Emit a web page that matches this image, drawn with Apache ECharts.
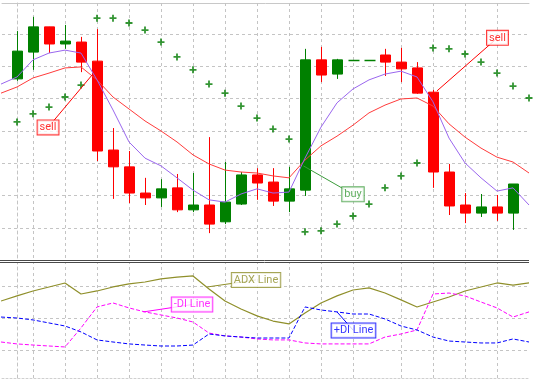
<!DOCTYPE html>
<html><head><meta charset="utf-8">
<script src="https://cdn.jsdelivr.net/npm/echarts@6/dist/echarts.min.js"></script>
<style>html,body{margin:0;padding:0;background:#fff}#c{width:542px;height:383px}</style>
</head><body><div id="c"></div>
<script>
// bar numbers (bar -1 and 32 are partly outside the window)
const barNo = [-1,0,1,2,3,4,5,6,7,8,9,10,11,12,13,14,15,16,17,18,19,20,21,22,23,24,25,26,27,28,29,30,31,32];
// candles (price units, grid step = 10)
const openP  = [null,56.1,64.4,72.2,66.9,67.5,61.6,34.1,28.9,20.8,19.3,22.4,15.6,17.1,11.9,17.4,26.4,24.2,18.3,21.7,62.0,57.6,62.0,62.0,63.5,61.3,59.5,52.0,27.3,17.1,14.6,16.5,14.6,null];
const closeP = [null,64.7,72.2,66.9,67.8,61.3,33.8,28.9,20.8,19.3,22.1,15.6,17.1,11.2,18.0,26.4,23.9,18.3,22.1,62.0,57.3,62.0,62.0,62.0,61.3,59.2,51.7,27.3,16.8,14.6,16.5,14.6,23.6,null];
const highP  = [null,70.9,75.3,72.2,72.8,69.1,71.5,40.9,33.8,25.5,25.1,26.7,27.0,38.1,30.4,27.3,28.5,28.5,28.9,65.4,66.0,62.3,62.0,62.0,65.4,65.7,61.3,52.7,29.8,20.8,20.5,20.2,23.6,null];
const lowP   = [null,55.5,58.9,64.1,65.4,58.2,30.7,19.0,17.7,17.1,16.5,14.9,14.9,8.4,11.2,17.1,18.7,16.8,14.9,19.9,55.1,56.1,62.0,62.0,57.0,55.1,51.5,22.4,14.0,11.5,13.4,12.2,9.4,null];
// moving averages
const maFast = [54.5,56.7,62.0,64.1,65.0,64.1,55.8,46.5,36.6,31.6,29.2,25.5,21.7,18.7,18.0,20.5,22.1,20.8,21.1,31.6,41.2,48.7,53.0,55.8,57.6,58.5,56.7,49.0,37.8,30.1,25.5,21.4,22.4,17.1];
const maSlow = [51.7,53.6,56.4,57.9,59.5,59.8,55.8,50.5,46.8,43.1,40.0,36.6,32.6,29.8,27.9,27.3,27.0,26.1,25.5,31.0,35.4,38.4,41.8,45.6,48.0,49.9,50.2,47.7,42.2,38.1,34.7,31.9,30.4,27.0];
// parabolic SAR
const sar = [41.5,42.8,45.3,47.4,50.5,54.2,74.9,74.9,73.4,71.2,67.5,62.9,58.9,54.5,51.7,47.7,44.0,40.6,37.5,8.8,9.1,11.2,13.7,17.4,22.4,26.1,30.1,65.7,65.4,63.8,61.3,57.9,53.9,50.2];
// ADX panel
const adx    = [50.6,53.8,56.9,59.4,61.9,55.0,56.9,59.4,61.3,62.5,64.4,65.6,66.3,58.1,50.6,45.6,41.3,38.1,36.3,43.1,49.4,53.8,57.5,58.8,55.6,51.3,46.9,50.0,53.1,56.9,59.4,61.9,60.6,61.9];
const minusDI= [25.0,23.8,23.1,22.5,21.9,33.8,46.9,49.4,46.3,43.8,41.9,40.0,37.5,30.6,28.8,28.1,26.9,26.3,26.3,24.4,23.8,23.8,23.8,23.8,28.1,30.0,32.5,55.0,55.6,53.8,50.0,46.3,40.6,43.8];
const plusDI = [40.6,40.0,38.8,36.9,35.0,31.3,26.3,25.0,23.8,23.1,22.5,22.5,23.1,30.0,28.8,28.1,27.5,27.5,27.5,46.9,45.0,43.8,42.5,42.5,39.4,35.0,32.5,28.1,25.6,25.0,24.4,24.4,26.9,25.0];
// grid lines
const hGridTop = [10,20,30,40,50,60,70];
const hGridBottom = [20,40,60];
const vGrid = [1,3,5,7,9,11,13,15,17,19,21,24,26,28,30];
// signal notes (top panel)
const noteText = ['sell','buy','sell'];
const noteColor = ['#ff0000','#3c9c3c','#ff0000'];
const noteFrom = [[4.69,57.3],[17.9,29.2],[26.25,52.4]];
const noteAt = [[1.94,41.1],[21.0,20.4],[30.03,68.8]];
// indicator line labels (bottom panel)
const lineText = ['ADX Line','-DI Line','+DI Line'];
const lineColor = ['#8f8f2a','#ff00ff','#0000ff'];
const lineFrom = [[11.9,59.4],[7.9,43.8],[20.0,43.8]];
const lineAt = [[14.94,63.8],[10.94,48.4],[21.03,32.2]];

const pairs = arr => barNo.map((b, i) => [b, arr[i]]);
const candleData = [];
barNo.forEach((b, i) => { if (openP[i] != null) candleData.push([b, openP[i], closeP[i], lowP[i], highP[i]]); });

function renderCandle(params, api) {
  const x = api.value(0), o = api.value(1), c = api.value(2), l = api.value(3), h = api.value(4);
  const pO = api.coord([x, o]), pC = api.coord([x, c]), pL = api.coord([x, l]), pH = api.coord([x, h]);
  const w = Math.round(api.size([1, 0])[0] * 0.65);
  const col = c >= o ? '#008000' : '#ff0000';
  const xc = Math.round(pO[0]) + 0.5;
  const top = Math.min(pO[1], pC[1]), bot = Math.max(pO[1], pC[1]);
  const left = Math.round(pO[0]) - w / 2 + 0.5;
  const children = [{
    type: 'line', shape: {x1: xc, y1: pH[1], x2: xc, y2: pL[1]},
    style: {stroke: col, lineWidth: 1}
  }];
  if (bot - top < 1) {
    children.push({type: 'line', shape: {x1: left, y1: Math.round(top) + 0.5, x2: left + w + 1, y2: Math.round(top) + 0.5}, style: {stroke: col, lineWidth: 1.5}});
  } else {
    children.push({type: 'rect', shape: {x: left, y: top, width: w, height: bot - top}, style: {fill: col, stroke: col, lineWidth: 1}});
  }
  return {type: 'group', children};
}

const gridStyle = {color: '#c4c4c4', type: [3, 3], width: 1};
const xCommon = {type: 'value', min: -0.9375, max: 32, axisTick: {show: false}, axisLabel: {show: false}, splitLine: {show: false}};
const yCommon = {type: 'value', axisTick: {show: false}, axisLabel: {show: false}, splitLine: {show: false}};

const series = [
  {
    type: 'custom', name: 'candles', xAxisIndex: 0, yAxisIndex: 0, z: 3,
    data: candleData, renderItem: renderCandle, encode: {x: 0, y: [1, 2, 3, 4]}, clip: true, animation: false,
    markLine: {z: 1, silent: true, symbol: ['none', 'none'], label: {show: false}, lineStyle: gridStyle, animation: false,
      data: hGridTop.map(v => ({yAxis: v})).concat(vGrid.map(v => ({xAxis: v})))}
  },
  {type: 'line', name: 'MA slow', data: pairs(maSlow), xAxisIndex: 0, yAxisIndex: 0, z: 4, showSymbol: false, symbol: 'none', lineStyle: {color: '#ff3b3b', width: 1}, clip: true, animation: false},
  {type: 'line', name: 'MA fast', data: pairs(maFast), xAxisIndex: 0, yAxisIndex: 0, z: 4, showSymbol: false, symbol: 'none', lineStyle: {color: '#9a66ee', width: 1}, clip: true, animation: false},
  {type: 'scatter', name: 'SAR', data: pairs(sar), xAxisIndex: 0, yAxisIndex: 0, z: 5,
    symbol: 'path://M2.6,0L4.4,0L4.4,2.6L7,2.6L7,4.4L4.4,4.4L4.4,7L2.6,7L2.6,4.4L0,4.4L0,2.6L2.6,2.6Z', symbolSize: 7,
    itemStyle: {color: '#007a00'}, clip: true, animation: false},
  {
    type: 'line', name: 'ADX', data: pairs(adx), xAxisIndex: 1, yAxisIndex: 1, z: 4, showSymbol: false, symbol: 'none',
    lineStyle: {color: '#8f8f2a', width: 1.2}, clip: true, animation: false,
    markLine: {z: 1, silent: true, symbol: ['none', 'none'], label: {show: false}, lineStyle: gridStyle, animation: false,
      data: hGridBottom.map(v => ({yAxis: v})).concat(vGrid.map(v => ({xAxis: v})))}
  },
  {type: 'line', name: '-DI', data: pairs(minusDI), xAxisIndex: 1, yAxisIndex: 1, z: 4, showSymbol: false, symbol: 'none', lineStyle: {color: '#ff00ff', width: 1, type: [4, 2]}, clip: true, animation: false},
  {type: 'line', name: '+DI', data: pairs(plusDI), xAxisIndex: 1, yAxisIndex: 1, z: 4, showSymbol: false, symbol: 'none', lineStyle: {color: '#0000ff', width: 1, type: [4, 2]}, clip: true, animation: false}
];

function addNotes(texts, colors, from, at, axis) {
  texts.forEach((t, i) => {
    series.push({type: 'line', data: [from[i], at[i]], xAxisIndex: axis, yAxisIndex: axis, z: 6, showSymbol: false, symbol: 'none',
      lineStyle: {color: colors[i], width: 1}, animation: false, silent: true});
    series.push({type: 'scatter', data: [at[i]], xAxisIndex: axis, yAxisIndex: axis, z: 7, symbol: 'circle', symbolSize: 2,
      itemStyle: {color: 'rgba(255,255,255,0)'}, animation: false, silent: true,
      label: {show: true, position: 'inside', formatter: t, color: colors[i], fontFamily: 'Roboto', fontSize: 11, lineHeight: 13,
        backgroundColor: '#ffffff', borderColor: colors[i], borderWidth: 1, padding: [1, 2, 0, 2]}});
  });
}
addNotes(noteText, noteColor, noteFrom, noteAt, 0);
addNotes(lineText, lineColor, lineFrom, lineAt, 1);

const chart = echarts.init(document.getElementById('c'), null, {renderer: 'canvas'});
chart.setOption({
  backgroundColor: '#ffffff',
  animation: false,
  grid: [
    {left: 2, top: 3, width: 527, height: 255},
    {left: 2, top: 263, width: 527, height: 115}
  ],
  xAxis: [
    Object.assign({gridIndex: 0, position: 'top', axisLine: {show: true, lineStyle: {color: '#c8c8c8', width: 1}}}, xCommon),
    Object.assign({gridIndex: 1, position: 'bottom', axisLine: {show: true, lineStyle: {color: '#d0d0d0', width: 1, type: [2, 2]}}}, xCommon)
  ],
  yAxis: [
    Object.assign({gridIndex: 0, min: 0.71, max: 79.58, axisLine: {show: true, lineStyle: {color: '#c4c4c4', type: [3, 3]}}}, yCommon),
    Object.assign({gridIndex: 1, min: 2.5, max: 74.375, axisLine: {show: true, lineStyle: {color: '#c4c4c4', type: [3, 3]}}}, yCommon)
  ],
  graphic: [
    {type: 'line', shape: {x1: 0, y1: 260.5, x2: 529, y2: 260.5}, style: {stroke: '#4a4a4a', lineWidth: 1}, silent: true, z: 10},
    {type: 'line', shape: {x1: 0, y1: 262.5, x2: 529, y2: 262.5}, style: {stroke: '#4a4a4a', lineWidth: 1}, silent: true, z: 10}
  ],
  series: series
});
</script>
</body></html>
